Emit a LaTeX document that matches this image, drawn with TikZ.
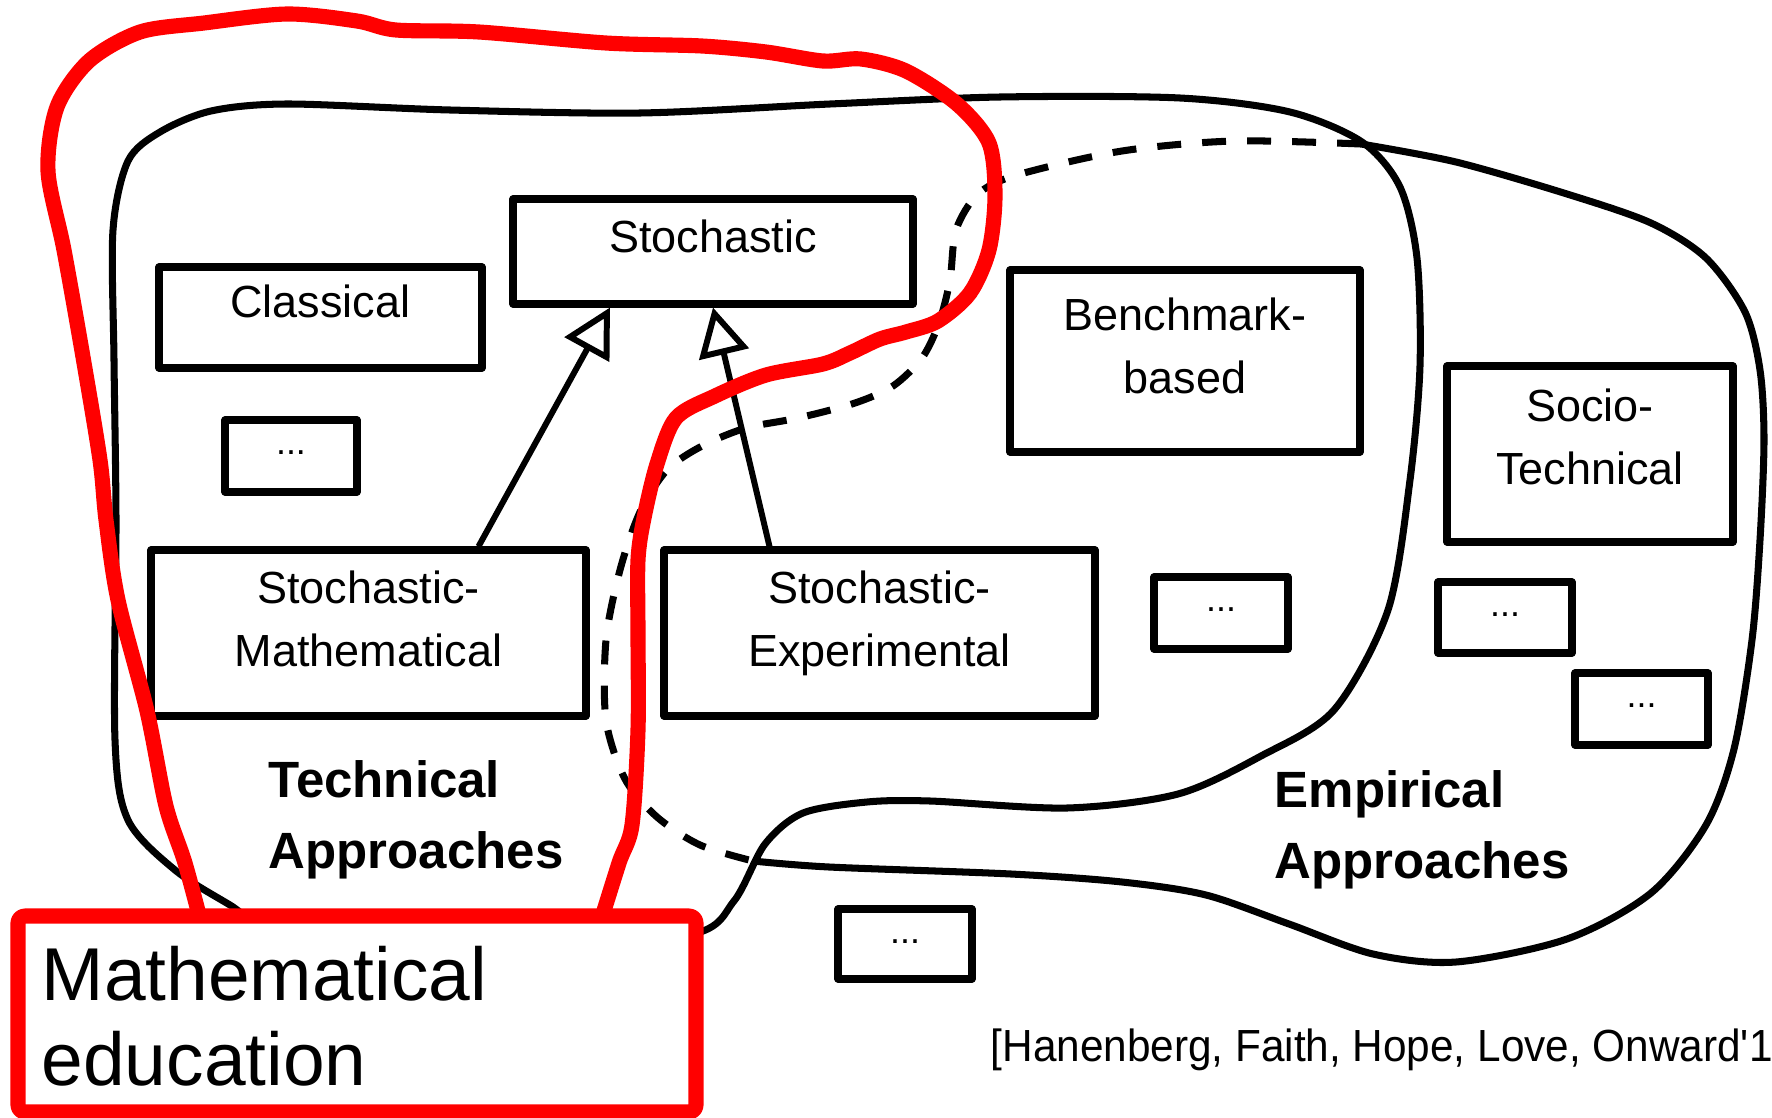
\documentclass[tikz,border=0pt]{standalone}
\usepackage{fontspec}
\setmainfont{Liberation Sans}
\newfontfamily\citefont[FakeStretch=0.94]{Liberation Sans}
\usepackage{tikz}
\usetikzlibrary{arrows.meta, positioning, calc}
\definecolor{mred}{HTML}{FF0000}
\newcommand{\appbox}[6][24]{%
  \node[abox, minimum width=#4*0.01cm, minimum height=#5*0.01cm] (#2) at #3 {};
  \node[atext] (#2-t) at ($(#2.north)+(0,#1)$) {#6};
}
\newcommand{\dotbox}[4]{%
  \node[abox, minimum width=#3*0.01cm, minimum height=#4*0.01cm] (#1) at #2 {};
  \node[dtext] (#1-t) at ($(#1.north)+(0,38)$) {...};
}

\begin{document}
\begin{tikzpicture}[x=0.01cm, y=-0.01cm, line join=round,
    abox/.style={draw, line width=2pt, fill=white, inner sep=0pt},
    atext/.style={anchor=north, inner sep=0pt, align=center,
                  font={\fontsize{12.8}{17.9}\selectfont}},
    dtext/.style={anchor=base, inner sep=0pt, font={\fontsize{10.2}{12}\selectfont}},
    group/.style={anchor=north west, inner sep=0pt, align=left,
                  font={\bfseries\fontsize{14.5}{20.2}\selectfont}},
    blob/.style={line width=2pt},
    inh/.style={-{Triangle[open, length=0.48cm, width=0.5cm]}, line width=1.7pt},
    redline/.style={mred, line width=4.3pt, line cap=round}]
  \fill[white] (0,0) rectangle (1772,1118);
  \useasboundingbox (0,0) rectangle (1772,1118);

  % technical approaches
  \draw[blob] plot[smooth cycle] coordinates {
    (113,230) (128,161) (160,132) (211,111) (287,104) (450,110) (640,113)
    (830,104) (1000,97) (1180,98) (1290,112) (1362,142) (1400,187)
    (1417,258) (1420,366) (1410,480) (1388,610) (1334,710) (1261,756)
    (1178,794) (1067,808) (930,801) (867,802) (803,813) (765,844)
    (734,901) (690,935) (500,955) (300,945) (230,905) (175,870)
    (128,820) (115,740) (116,520) (114,360)};
  % empirical approaches
  \draw[blob, dash pattern=on 6.8pt off 6pt] plot[smooth] coordinates {
    (1361,144) (1234,141) (1122,151) (1017,175) (978,194) (956,230)
    (950,280) (939,323) (922,358) (893,386) (855,403) (798,418) (746,428)
    (702,446) (667,470) (640,512) (620,570) (606,640) (606,720) (625,779)
    (657,817) (700,845) (753,861)};
  \draw[blob] plot[smooth] coordinates {
    (753,861) (829,867) (1011,874) (1122,882) (1206,895) (1289,924)
    (1373,954) (1456,962) (1567,939) (1651,893) (1706,825) (1734,749)
    (1752,640) (1760,540) (1764,440) (1760,370) (1745,312) (1706,258)
    (1651,223) (1567,194) (1456,162) (1361,144)};

  \appbox{stoch}{(713,251.5)}{400}{105}{Stochastic}
  \appbox[21]{classic}{(320.5,317.5)}{323}{101}{Classical}
  \dotbox{dA}{(291,456)}{132}{72}
  \appbox{sm}{(368.5,633)}{435}{166}{Stochastic-\\Mathematical}
  \appbox{se}{(879.5,633)}{431}{166}{Stochastic-\\Experimental}
  \appbox[31]{bench}{(1185,361)}{350}{182}{Benchmark-\\based}
  \appbox[26]{socio}{(1590,454)}{286}{176}{Socio-\\Technical}
  \dotbox{dB}{(1221,613)}{134}{72}
  \dotbox{dC}{(1505,617.5)}{134}{71}
  \dotbox{dD}{(1641.5,709)}{133}{72}
  \dotbox{dE}{(905,944)}{134}{70}

  \draw[inh] ($(sm.north)+(110,0)$) -- ($(stoch.south)+(-103,0)$);
  \draw[inh] ($(se.north)+(-110,0)$) -- (stoch.south);

  \node[group] (tech) at (268,760) {Technical\\Approaches};
  \node[group] (emp) at (1274,770) {Empirical\\Approaches};

  % mathematical education
  \draw[redline] plot[smooth] coordinates {
    (203,930) (185,863) (166,806) (147,711) (118,600) (106,520) (100,460)
    (83,357) (64,250) (48,171) (57,107) (89,61) (140,32) (204,23) (287,14)
    (357,21) (396,30) (479,32) (606,43) (702,46) (766,52) (823,61) (861,59)
    (906,71) (957,104) (989,143) (995,196) (989,250) (970,293) (938,321)
    (906,332) (880,339) (850,353) (823,364) (766,375) (715,396) (676,418)
    (657,464) (644,518) (638,560) (638,634) (638,730) (632,825) (619,863)
    (598,930)};
  \node[draw=mred, line width=4.3pt, fill=white, rounded corners=2pt,
        minimum width=678*0.01cm, minimum height=196*0.01cm] (medu) at (357,1014) {};
  \node[anchor=north west, inner sep=0pt, align=left,
        font={\fontsize{21.3}{23.9}\selectfont}] (medu-t) at (41,946)
        {Mathematical\\education};

  \node[anchor=base west, inner sep=0pt, font={\citefont\fontsize{12.8}{15}\selectfont}]
    (src) at (990,1061) {[Hanenberg, Faith, Hope, Love, Onward\textquotesingle 1};
\end{tikzpicture}
\end{document}
